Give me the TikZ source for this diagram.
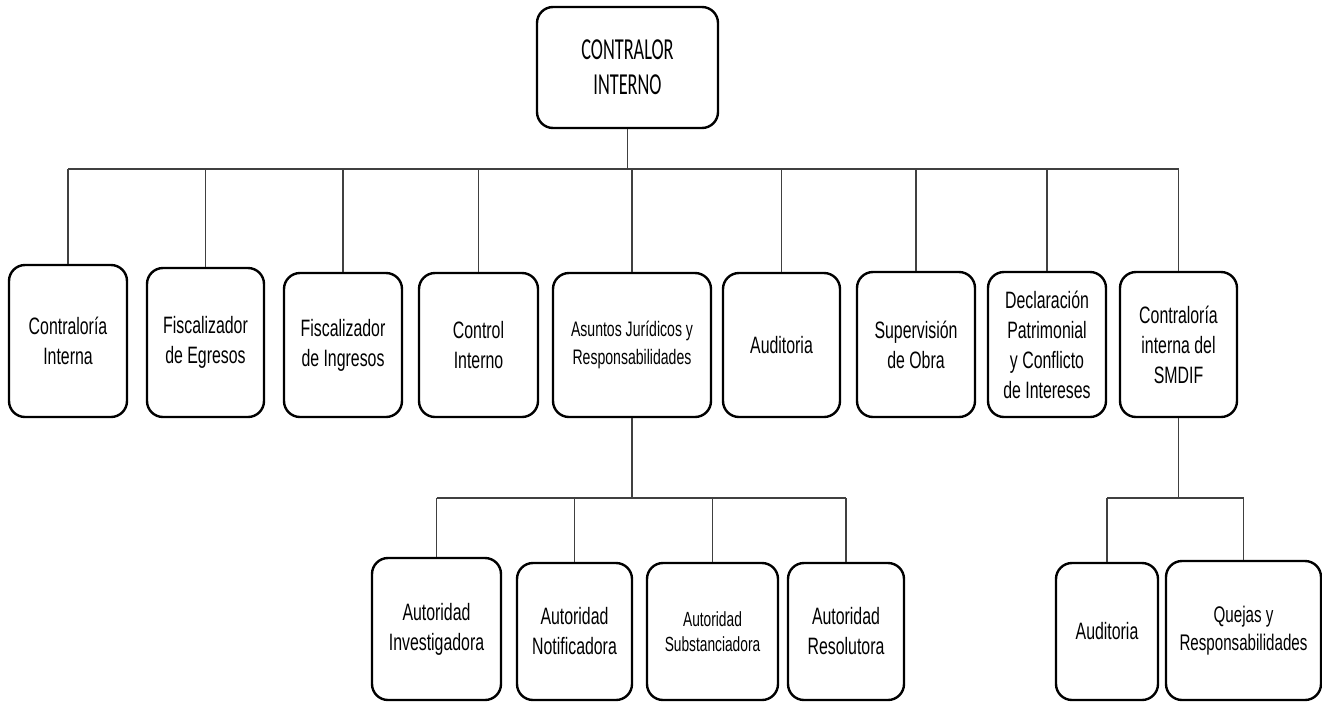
\documentclass[tikz,border=0pt]{standalone}
\usepackage{fontspec}
\setmainfont{Liberation Sans}[FakeStretch=0.67]
\newfontfamily\topfont{Carlito}[FakeStretch=0.6]
\begin{document}
\begin{tikzpicture}[x=1pt,y=-1pt,
  box/.style={draw=black, line width=2.4pt, rounded corners=16pt, align=center,
    inner sep=0pt, fill=white, font=\fontsize{23.7}{30}\selectfont},
  link/.style={draw=black!75, line width=1.2pt}]
\useasboundingbox[fill=white] (0,0) rectangle (1322,702);
% top
\node[box, minimum width=181pt, minimum height=121pt, font=\topfont\fontsize{30.5}{35}\selectfont] (top) at (627.5,67.5) {CONTRALOR\\INTERNO};
% second row
\node[box, minimum width=118pt, minimum height=152pt] (r1) at (68,341) {Contraloría\\Interna};
\node[box, minimum width=117pt, minimum height=149pt] (r2) at (205.5,342.5) {Fiscalizador\\de Egresos};
\node[box, minimum width=118pt, minimum height=144pt] (r3) at (343,345) {Fiscalizador\\de Ingresos};
\node[box, minimum width=119pt, minimum height=144pt] (r4) at (478.5,345) {Control\\Interno};
\node[box, minimum width=158pt, minimum height=144pt, font=\fontsize{21}{28}\selectfont] (r5) at (632,345) {Asuntos Jurídicos y\\Responsabilidades};
\node[box, minimum width=117pt, minimum height=144pt] (r6) at (781.5,345) {Auditoria};
\node[box, minimum width=118pt, minimum height=145pt] (r7) at (916,344.5) {Supervisión\\de Obra};
\node[box, minimum width=118pt, minimum height=145pt] (r8) at (1047,344.5) {Declaración\\Patrimonial\\y Conflicto\\de Intereses};
\node[box, minimum width=117pt, minimum height=145pt] (r9) at (1178.5,344.5) {Contraloría\\interna del\\SMDIF};
% third row
\node[box, minimum width=129pt, minimum height=142pt] (a1) at (436.5,629) {Autoridad\\Investigadora};
\node[box, minimum width=115pt, minimum height=137pt] (a2) at (574.5,631.5) {Autoridad\\Notificadora};
\node[box, minimum width=131pt, minimum height=137pt, font=\fontsize{20.5}{25}\selectfont] (a3) at (712.5,631.5) {Autoridad\\Substanciadora};
\node[box, minimum width=116pt, minimum height=137pt] (a4) at (846,631.5) {Autoridad\\Resolutora};
\node[box, minimum width=102pt, minimum height=137pt] (s1) at (1107,631.5) {Auditoria};
\node[box, minimum width=155pt, minimum height=139pt, font=\fontsize{22.6}{28}\selectfont] (s2) at (1243.5,630.5) {Quejas y\\Responsabilidades};
% buses
\coordinate (b1) at (0,169);
\coordinate (b2) at (0,498);
\draw[link] (top.south) -- (top.south |- b1);
\draw[link] (r1.north |- b1) -- (r9.north |- b1);
\foreach \n in {r1,r2,r3,r4,r5,r6,r7,r8,r9}
  \draw[link] (\n.north) -- (\n.north |- b1);
\draw[link] (r5.south) -- (r5.south |- b2);
\draw[link] (a1.north |- b2) -- (a4.north |- b2);
\foreach \n in {a1,a2,a3,a4}
  \draw[link] (\n.north) -- (\n.north |- b2);
\draw[link] (r9.south) -- (r9.south |- b2);
\draw[link] (s1.north |- b2) -- (s2.north |- b2);
\foreach \n in {s1,s2}
  \draw[link] (\n.north) -- (\n.north |- b2);
\end{tikzpicture}
\end{document}
